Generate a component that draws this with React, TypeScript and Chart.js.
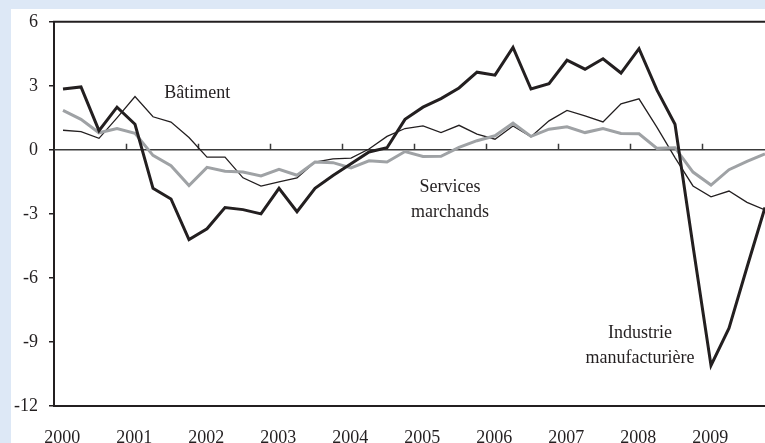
import React, { useEffect, useRef } from "react";
import { Chart, registerables } from "chart.js";

Chart.register(...registerables);

const years = [2000, 2001, 2002, 2003, 2004, 2005, 2006, 2007, 2008, 2009];
const yearLabels = ["2000", "2001", "2002", "2003", "2004", "2005", "2006", "2007", "2008", "2009"];
const quarterOffsets = [0.125, 0.375, 0.625, 0.875];

// Industrie manufacturière (thick black)
const industrie = [
  2.85, 2.95, 0.9, 2.0, 1.2, -1.8, -2.3, -4.2, -3.7, -2.7,
  -2.8, -3.0, -1.8, -2.9, -1.8, -1.2, -0.65, -0.1, 0.1, 1.43,
  2.0, 2.4, 2.9, 3.64, 3.5, 4.8, 2.85, 3.1, 4.2, 3.78,
  4.27, 3.6, 4.74, 2.8, 1.2, -4.5, -10.1, -8.35, -5.5, -2.7,
];
// Bâtiment (thin black)
const batiment = [
  0.92, 0.85, 0.54, 1.5, 2.5, 1.55, 1.3, 0.58, -0.34, -0.34,
  -1.31, -1.7, -1.5, -1.31, -0.57, -0.42, -0.39, 0.04, 0.63, 1.0,
  1.12, 0.81, 1.15, 0.74, 0.5, 1.12, 0.62, 1.36, 1.85, 1.59,
  1.31, 2.16, 2.39, 1.05, -0.36, -1.69, -2.2, -1.93, -2.46, -2.81,
];
// Services marchands (grey)
const services = [
  1.85, 1.43, 0.8, 1.0, 0.78, -0.26, -0.74, -1.67, -0.82, -1.0,
  -1.04, -1.22, -0.91, -1.19, -0.57, -0.6, -0.85, -0.51, -0.57, -0.08,
  -0.31, -0.3, 0.12, 0.43, 0.66, 1.25, 0.63, 0.97, 1.08, 0.81,
  1.0, 0.77, 0.75, 0.07, 0.1, -1.04, -1.65, -0.93, -0.54, -0.19,
];

const quarterX = years.flatMap((y) => quarterOffsets.map((q) => y + q));

const annotations = [
  { lines: ["Bâtiment"], x: 2001.99, y: 2.66 },
  { lines: ["Services", "marchands"], x: 2005.5, y: -1.75 },
  { lines: ["Industrie", "manufacturière"], x: 2008.14, y: -8.57 },
];

const INK = "#231f20";
const FONT = "'Liberation Serif', 'Times New Roman', serif";
const FONT_SIZE = 18;

const decorPlugin = {
  id: "decor",
  beforeDatasetsDraw(chart: any) {
    const { ctx, chartArea, scales } = chart;
    const xs = scales.x;
    const ys = scales.y;
    const y0 = ys.getPixelForValue(0);
    ctx.save();
    ctx.strokeStyle = "#3a3a3a";
    ctx.lineWidth = 1.5;
    ctx.beginPath();
    ctx.moveTo(chartArea.left, y0);
    ctx.lineTo(chartArea.right, y0);
    years.slice(1).forEach((yr) => {
      const px = Math.round(xs.getPixelForValue(yr)) + 0.5;
      ctx.moveTo(px, y0);
      ctx.lineTo(px, y0 - 6);
    });
    ctx.stroke();
    ctx.strokeStyle = INK;
    ctx.lineWidth = 2;
    ctx.beginPath();
    ctx.moveTo(chartArea.left - 1, chartArea.top);
    ctx.lineTo(chartArea.right, chartArea.top);
    ctx.stroke();
    ctx.restore();
  },
  afterDatasetsDraw(chart: any) {
    const { ctx, scales } = chart;
    ctx.save();
    ctx.fillStyle = INK;
    ctx.font = `${FONT_SIZE}px ${FONT}`;
    ctx.textAlign = "center";
    ctx.textBaseline = "middle";
    annotations.forEach((a) => {
      const px = scales.x.getPixelForValue(a.x);
      const py = scales.y.getPixelForValue(a.y);
      a.lines.forEach((t, i) => ctx.fillText(t, px, py + i * 25));
    });
    ctx.restore();
  },
};

export default function App() {
  const canvasRef = useRef<HTMLCanvasElement | null>(null);

  useEffect(() => {
    if (!canvasRef.current) return;
    const chart = new Chart(canvasRef.current, {
      type: "line",
      data: {
        datasets: [
          {
            label: "Industrie manufacturière",
            data: industrie.map((v, i) => ({ x: quarterX[i], y: v })),
            borderColor: INK,
            borderWidth: 3,
            pointRadius: 0,
            tension: 0,
            order: 0,
          },
          {
            label: "Services marchands",
            data: services.map((v, i) => ({ x: quarterX[i], y: v })),
            borderColor: "#9fa2a5",
            borderWidth: 3,
            pointRadius: 0,
            tension: 0,
            order: 1,
          },
          {
            label: "Bâtiment",
            data: batiment.map((v, i) => ({ x: quarterX[i], y: v })),
            borderColor: INK,
            borderWidth: 1.3,
            pointRadius: 0,
            tension: 0,
            order: 2,
          },
        ],
      },
      options: {
        animation: false,
        responsive: false,
        maintainAspectRatio: false,
        layout: { padding: { top: 18, left: 0, right: 0, bottom: 0 } },
        plugins: {
          legend: { display: false },
          tooltip: { enabled: false },
        },
        scales: {
          x: {
            type: "linear",
            min: 2000,
            max: 2009.875,
            afterBuildTicks: (scale: any) => {
              scale.ticks = years.map((y) => ({ value: y + 0.115 }));
            },
            afterFit: (scale: any) => {
              scale.height = 37;
            },
            grid: { display: false, drawTicks: false },
            border: { display: true, color: INK, width: 2 },
            ticks: {
              autoSkip: false,
              maxRotation: 0,
              padding: 21,
              color: INK,
              font: { family: FONT, size: FONT_SIZE },
              callback: (_v: any, i: number) => yearLabels[i],
            },
          },
          y: {
            min: -12,
            max: 6,
            afterFit: (scale: any) => {
              scale.width = 54;
            },
            grid: {
              drawOnChartArea: false,
              drawTicks: true,
              tickLength: 5,
              color: INK,
              lineWidth: 1.5,
            },
            border: { display: true, color: INK, width: 2 },
            ticks: {
              stepSize: 3,
              padding: 11,
              color: INK,
              font: { family: FONT, size: FONT_SIZE },
              callback: (v: any) => String(v),
            },
          },
        },
      },
      plugins: [decorPlugin],
    });
    return () => chart.destroy();
  }, []);

  return (
    <div
      style={{
        position: "fixed",
        left: 0,
        top: 0,
        width: 765,
        height: 443,
        background: "#dde8f6",
        overflow: "hidden",
      }}
    >
      <div
        style={{
          position: "absolute",
          left: 11,
          top: 9,
          right: 0,
          bottom: 0,
          background: "#ffffff",
        }}
      />
      <canvas
        ref={canvasRef}
        width={765}
        height={443}
        style={{ position: "absolute", left: 0, top: 0, width: 765, height: 443 }}
      />
    </div>
  );
}
